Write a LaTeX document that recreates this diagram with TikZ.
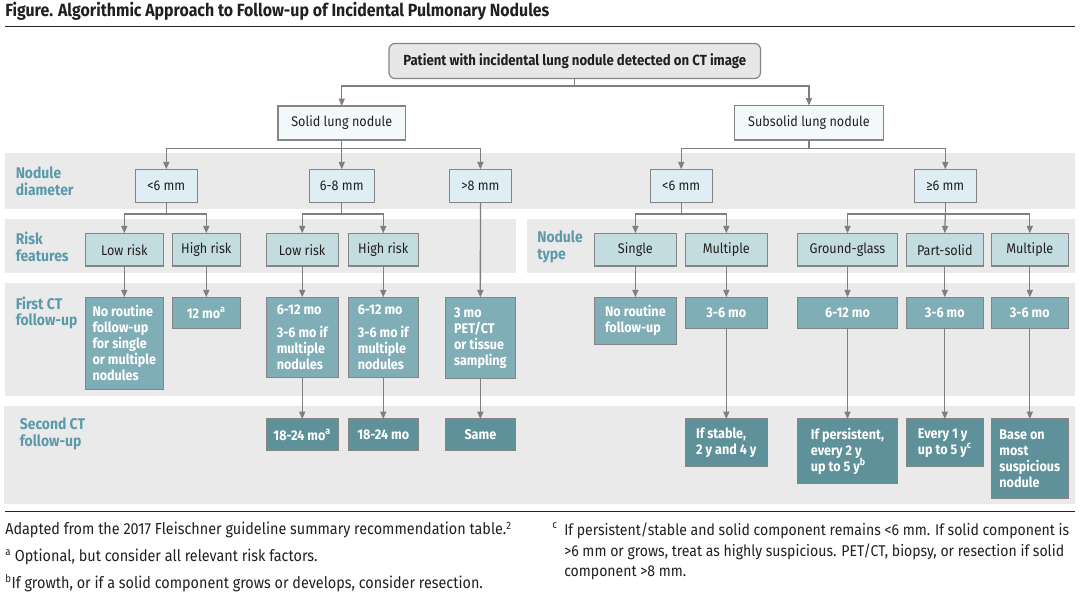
\documentclass[tikz,border=0pt]{standalone}
\usepackage{fontspec}
\setmainfont{Fira Sans}[FakeStretch=0.9]
\usetikzlibrary{arrows.meta}
\definecolor{bandc}{HTML}{EAEAEA}
\definecolor{boxline}{HTML}{858585}
\definecolor{arrc}{HTML}{7F7F7F}
\definecolor{labc}{HTML}{5B9AAB}
\definecolor{txt}{HTML}{231F20}
\definecolor{c0}{HTML}{E6E7E8}
\definecolor{c1}{HTML}{F3F9FB}
\definecolor{c2}{HTML}{DFEEF4}
\definecolor{c3}{HTML}{C3DCDF}
\definecolor{c4}{HTML}{80AEB6}
\definecolor{c5}{HTML}{5E9199}
\newcommand\bx[7]{\node[#2, minimum width={(#5-#3)*0.75pt}, minimum height={(#6-#4)*0.75pt}] (#1) at ({(#3+#5)/2},{(#4+#6)/2}) {#7};}
\begin{document}
\begin{tikzpicture}[x=0.75pt,y=-0.75pt,
  box/.style={draw=boxline, line width=0.9pt, inner sep=0pt, outer sep=0pt, align=center, text=txt, font=\fontsize{10.5}{12}\selectfont},
  lvl0/.style={box, fill=c0, rounded corners=4.5pt, font=\bfseries\fontsize{11}{12}\selectfont},
  lvl1/.style={box, fill=c1},
  lvl2/.style={box, fill=c2},
  lvl3/.style={box, fill=c3},
  lvl4/.style={box, fill=c4, text=white, align=left, font=\bfseries\fontsize{10.5}{12}\selectfont},
  lvl5/.style={box, fill=c5, text=white, align=left, font=\bfseries\fontsize{10.5}{12}\selectfont},
  lab/.style={anchor=west, align=left, inner sep=0pt, text=labc, font=\bfseries\fontsize{11.6}{12.6}\selectfont},
  ln/.style={draw=arrc, line width=0.95pt},
  arr/.style={ln, -{Triangle[length=5.5pt,width=4.5pt]}},
  rule/.style={draw=black!85, line width=1.1pt},
  foot/.style={anchor=west, inner sep=0pt, text=txt, font=\fontsize{12}{15.4}\selectfont},
  footr/.style={anchor=north west, inner sep=0pt, text=txt, font=\fontsize{11.7}{15.4}\selectfont}
]
\useasboundingbox (0,0) rectangle (1080,605);
\fill[white] (0,0) rectangle (1080,605);
% title
\node[anchor=west, inner sep=0pt, text=txt, font=\bfseries\fontsize{13.25}{15}\selectfont] (title) at (5,11) {Figure. Algorithmic Approach to Follow-up of Incidental Pulmonary Nodules};
\draw[rule] (5,26.5) -- (1075,26.5);
\draw[rule] (5,511.7) -- (1075,511.7);
% bands
\fill[bandc] (5,152.7) rectangle (1075,209.3);
\fill[bandc] (5,219) rectangle (515.5,273.3);
\fill[bandc] (527,219) rectangle (1075,273.3);
\fill[bandc] (5,283.3) rectangle (1075,395.7);
\fill[bandc] (4,406) rectangle (1075,504.3);
% band labels
\node[lab] (L1) at (15.5,181.5) {Nodule\\diameter};
\node[lab] (L2) at (15.5,247) {Risk\\features};
\node[lab] (L3) at (15.5,313) {First CT\\follow-up};
\node[lab] (L4) at (19.6,434) {Second CT\\follow-up};
\node[lab] (L5) at (537,247) {Nodule\\type};
% boxes
\bx{top}{lvl0}{389}{43.5}{760.5}{78.5}{Patient with incidental lung nodule detected on CT image}
\bx{solid}{lvl1}{278}{106}{405.5}{140}{Solid lung nodule}
\bx{subsolid}{lvl1}{734.6}{105.5}{883.3}{140}{Subsolid lung nodule}
\bx{d1}{lvl2}{135.3}{169.3}{197.3}{202.3}{<6 mm}
\bx{d2}{lvl2}{309.2}{169.3}{374.3}{202.3}{6-8 mm}
\bx{d3}{lvl2}{449.4}{169.3}{511.4}{202.3}{>8 mm}
\bx{d4}{lvl2}{650.2}{169.3}{712.2}{202.3}{<6 mm}
\bx{d5}{lvl2}{914.3}{169.3}{976.3}{202.3}{≥6 mm}
\bx{r1}{lvl3}{85.4}{233.3}{163.2}{266}{Low risk}
\bx{r2}{lvl3}{172.2}{233.3}{240.4}{266}{High risk}
\bx{r3}{lvl3}{266.2}{233.3}{338.2}{266}{Low risk}
\bx{r4}{lvl3}{348.1}{233.3}{418.4}{266}{High risk}
\bx{t1}{lvl3}{594.4}{233.3}{676.4}{266}{Single}
\bx{t2}{lvl3}{685.3}{233.3}{767.3}{266}{Multiple}
\bx{t3}{lvl3}{797.6}{233.3}{897.4}{266}{Ground-glass}
\bx{t4}{lvl3}{906.4}{233.3}{983.2}{266}{Part-solid}
\bx{t5}{lvl3}{991.4}{233.3}{1068.2}{266}{Multiple}
\bx{f1}{lvl4}{85.4}{297.3}{163.2}{389.3}{No routine\\follow-up\\for single\\or multiple\\nodules}
\bx{f2}{lvl4}{172.2}{297.3}{240.4}{328.3}{12 mo\textsuperscript{a}}
\bx{f3}{lvl4}{266.2}{297.3}{338.2}{377.7}{6-12 mo\\[5pt]3-6 mo if\\multiple\\nodules}
\bx{f4}{lvl4}{348.1}{297.3}{418.4}{377.7}{6-12 mo\\[5pt]3-6 mo if\\multiple\\nodules}
\bx{f5}{lvl4}{445.2}{297.3}{515.5}{378.3}{3 mo\\PET/CT\\or tissue\\sampling}
\bx{f6}{lvl4}{594.4}{297.3}{676.4}{344.3}{No routine\\follow-up}
\bx{f7}{lvl4}{685.3}{297.3}{767.3}{328.3}{3-6 mo}
\bx{f8}{lvl4}{797.6}{297.3}{897.4}{328.3}{6-12 mo}
\bx{f9}{lvl4}{906.4}{297.3}{983.2}{328.3}{3-6 mo}
\bx{f10}{lvl4}{991.4}{297.3}{1068.2}{328.3}{3-6 mo}
\bx{s1}{lvl5}{266.2}{419}{338.2}{450.7}{18-24 mo\textsuperscript{a}}
\bx{s2}{lvl5}{348.1}{419}{418.4}{450.7}{18-24 mo}
\bx{s3}{lvl5}{445.2}{419}{515.5}{450.7}{Same}
\bx{s4}{lvl5}{685.3}{419}{767.3}{466.7}{If stable,\\2 y and 4 y}
\bx{s5}{lvl5}{797.6}{419}{897.4}{483.3}{If persistent,\\every 2 y\\up to 5 y\textsuperscript{b}}
\bx{s6}{lvl5}{906.4}{419}{983.2}{466.7}{Every 1 y\\up to 5 y\textsuperscript{c}}
\bx{s7}{lvl5}{991.4}{419}{1068.2}{498.7}{Base on\\most\\suspicious\\nodule}
% connectors
\draw[ln] (top.south) -- ++(0,7.5) coordinate (j0);
\draw[arr] (j0) -| (solid.north);
\draw[arr] (j0) -| (subsolid.north);
\draw[ln] (solid.south) -- ++(0,8.3) coordinate (j1);
\draw[arr] (j1) -| (d1.north);
\draw[arr] (j1) -- (d2.north);
\draw[arr] (j1) -| (d3.north);
\draw[ln] (subsolid.south) -- ++(0,8.3) coordinate (j2);
\draw[arr] (j2) -| (d4.north);
\draw[arr] (j2) -| (d5.north);
\draw[ln] (d1.south) -- ++(0,11.7) coordinate (j3);
\draw[arr] (j3) -| (r1.north);
\draw[arr] (j3) -| (r2.north);
\draw[ln] (d2.south) -- ++(0,11.7) coordinate (j4);
\draw[arr] (j4) -| (r3.north);
\draw[arr] (j4) -| (r4.north);
\draw[ln] (d4.south) -- ++(0,11.7) coordinate (j5);
\draw[arr] (j5) -| (t1.north);
\draw[arr] (j5) -| (t2.north);
\draw[ln] (d5.south) -- ++(0,11.7) coordinate (j6);
\draw[arr] (j6) -| (t3.north);
\draw[arr] (j6) -- (t4.north);
\draw[arr] (j6) -| (t5.north);
\draw[arr] (r1.south) -- (f1.north);
\draw[arr] (r2.south) -- (f2.north);
\draw[arr] (r3.south) -- (f3.north);
\draw[arr] (r4.south) -- (f4.north);
\draw[arr] (d3.south) -- (f5.north);
\draw[arr] (t1.south) -- (f6.north);
\draw[arr] (t2.south) -- (f7.north);
\draw[arr] (t3.south) -- (f8.north);
\draw[arr] (t4.south) -- (f9.north);
\draw[arr] (t5.south) -- (f10.north);
\draw[arr] (f3.south) -- (s1.north);
\draw[arr] (f4.south) -- (s2.north);
\draw[arr] (f5.south) -- (s3.north);
\draw[arr] (f7.south) -- (s4.north);
\draw[arr] (f8.south) -- (s5.north);
\draw[arr] (f9.south) -- (s6.north);
\draw[arr] (f10.south) -- (s7.north);
% footnotes
\node[foot] (n1) at (5,530) {Adapted from the 2017 Fleischner guideline summary recommendation table.\textsuperscript{2}};
\node[foot] (n2) at (5,557) {\textsuperscript{a} Optional, but consider all relevant risk factors.};
\node[foot] (n3) at (5,583) {\textsuperscript{b}If growth, or if a solid component grows or develops, consider resection.};
\node[footr] (n4c) at (552,522) {\textsuperscript{c}};
\node[footr, align=left] (n4) at (564,523) {If persistent/stable and solid component remains <6 mm. If solid component is\\>6 mm or grows, treat as highly suspicious. PET/CT, biopsy, or resection if solid\\component >8 mm.};
\end{tikzpicture}
\end{document}
